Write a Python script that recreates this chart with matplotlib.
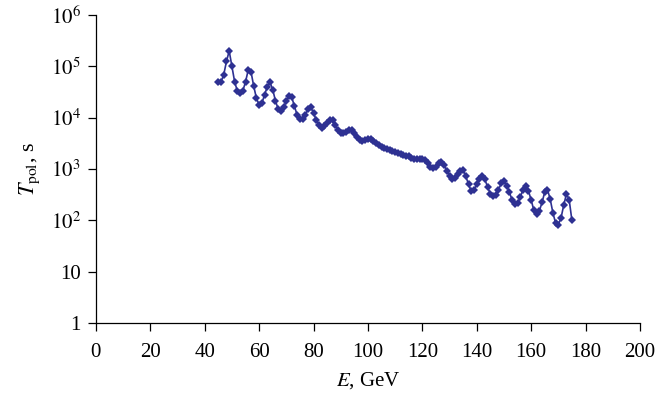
import numpy as np
import matplotlib
matplotlib.use('Agg')
import matplotlib.pyplot as plt
from matplotlib.ticker import FixedLocator, FixedFormatter, NullLocator

# energy points, GeV
energy = list(range(45, 176))

# log10 of polarization time (s)
log_tpol = [
    4.69, 4.70, 4.84, 5.10, 5.30, 5.00, 4.70, 4.52, 4.48, 4.52,
    4.70, 4.93, 4.90, 4.62, 4.38, 4.25, 4.28, 4.45, 4.60, 4.69,
    4.55, 4.33, 4.17, 4.14, 4.20, 4.33, 4.42, 4.40, 4.22, 4.05,
    3.97, 3.97, 4.06, 4.17, 4.20, 4.10, 3.95, 3.85, 3.80, 3.83,
    3.90, 3.96, 3.95, 3.86, 3.76, 3.71, 3.70, 3.73, 3.77, 3.76,
    3.70, 3.62, 3.56, 3.55, 3.56, 3.58, 3.58, 3.55, 3.50, 3.46,
    3.43, 3.41, 3.39, 3.37, 3.35, 3.34, 3.32, 3.30, 3.28, 3.26,
    3.25, 3.22, 3.20, 3.19, 3.19, 3.19, 3.17, 3.12, 3.05, 3.02,
    3.05, 3.12, 3.14, 3.08, 2.97, 2.87, 2.80, 2.83, 2.90, 2.97,
    2.98, 2.86, 2.70, 2.57, 2.60, 2.70, 2.80, 2.86, 2.80, 2.65,
    2.52, 2.48, 2.50, 2.60, 2.72, 2.76, 2.68, 2.55, 2.40, 2.32,
    2.33, 2.45, 2.60, 2.68, 2.58, 2.40, 2.20, 2.13, 2.18, 2.35,
    2.55, 2.60, 2.42, 2.15, 1.95, 1.92, 2.05, 2.30, 2.52, 2.40,
    2.00,
]

x_ticks = list(range(0, 201, 20))
y_ticks = [1, 10, 1e2, 1e3, 1e4, 1e5, 1e6]
y_labels = ['1', '10', '$10^2$', '$10^3$', '$10^4$', '$10^5$', '$10^6$']

plt.rcParams['font.family'] = ['Liberation Serif', 'DejaVu Serif']
plt.rcParams['mathtext.fontset'] = 'stix'

tpol = 10 ** np.array(log_tpol)

fig = plt.figure(figsize=(6.57, 3.96), dpi=100)
ax = fig.add_axes([0.146, 0.184, 0.828, 0.778])

ax.plot(energy, tpol, '-', color='#2e3192', lw=1.2,
        marker='D', markersize=3.8, markeredgewidth=0)

ax.set_yscale('log')
ax.set_xlim(0, 200)
ax.set_ylim(1, 1e6)
ax.xaxis.set_major_locator(FixedLocator(x_ticks))
ax.yaxis.set_major_locator(FixedLocator(y_ticks))
ax.yaxis.set_major_formatter(FixedFormatter(y_labels))
ax.yaxis.set_minor_locator(NullLocator())

for s in ['top', 'right']:
    ax.spines[s].set_visible(False)
for s in ['left', 'bottom']:
    ax.spines[s].set_linewidth(0.9)

ax.tick_params(direction='out', length=6, width=0.9, labelsize=15)
ax.tick_params(axis='x', pad=8)
ax.tick_params(axis='y', pad=5)

ax.set_xlabel('$E$, GeV', fontsize=15, labelpad=6)
ax.set_ylabel(r'$T_{\mathrm{pol}}$, s', fontsize=16, labelpad=6)

fig.savefig('out.png', dpi=100)
